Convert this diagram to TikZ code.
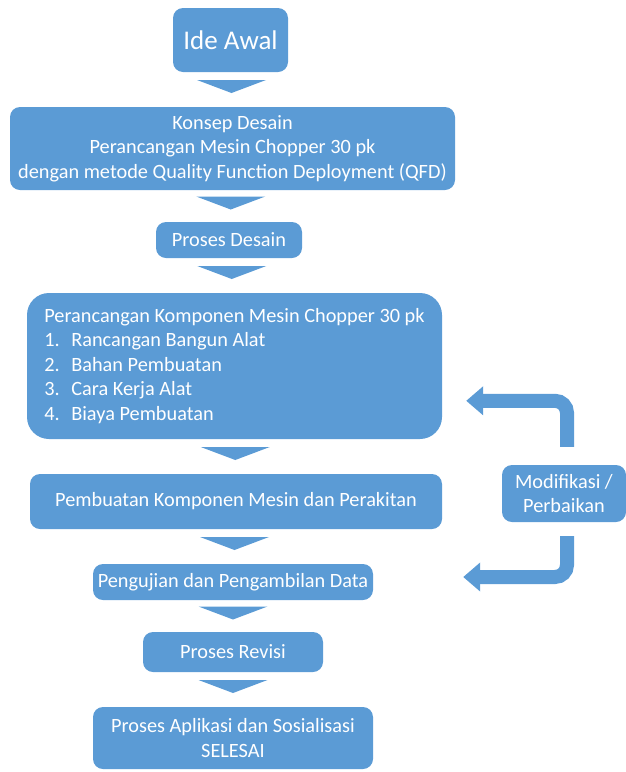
\documentclass[tikz,border=0pt]{standalone}
\usepackage{fontspec}
\setmainfont{Carlito}
\usetikzlibrary{arrows.meta,calc}
\definecolor{boxblue}{HTML}{5B9BD5}
\begin{document}
\begin{tikzpicture}[x=1pt,y=-1pt,
  box/.style={fill=boxblue, rounded corners=10pt, text=white,
    font=\fontsize{20.3}{24.5}\selectfont, align=center, inner sep=0pt},
  chev/.style={fill=boxblue},
  bent/.style={draw=boxblue, line width=14pt, rounded corners=12pt,
    -{Triangle[width=28pt,length=17pt]}}]
\useasboundingbox (0,0) rectangle (626,772);
\node[box, minimum width=115pt, minimum height=64pt, font=\fontsize{27}{30}\selectfont] (ide) at (230.5,40) {Ide Awal};
\node[box, minimum width=445pt, minimum height=83pt] (konsep) at (232.5,148.5)
  {Konsep Desain\\Perancangan Mesin Chopper 30 pk\\dengan metode Quality Function Deployment (QFD)};
\node[box, minimum width=146pt, minimum height=36pt] (desain) at (229,240) {Proses Desain};
\node[box, minimum width=415pt, minimum height=146pt, rounded corners=22pt, align=left] (komponen) at (234.5,366)
  {Perancangan Komponen Mesin Chopper 30 pk\\
   \makebox[27pt][l]{1.}Rancangan Bangun Alat\\
   \makebox[27pt][l]{2.}Bahan Pembuatan\\
   \makebox[27pt][l]{3.}Cara Kerja Alat\\
   \makebox[27pt][l]{4.}Biaya Pembuatan};
\node[box, minimum width=412pt, minimum height=55pt] (pembuatan) at (236,501.5) {Pembuatan Komponen Mesin dan Perakitan};
\node[box, minimum width=280pt, minimum height=36pt] (pengujian) at (233,582) {Pengujian dan Pengambilan Data};
\node[box, minimum width=180pt, minimum height=40pt] (revisi) at (233,652) {Proses Revisi};
\node[box, minimum width=280pt, minimum height=62pt] (aplikasi) at (233,738) {Proses Aplikasi dan Sosialisasi\\SELESAI};
\node[box, minimum width=124pt, minimum height=57pt] (mod) at (564,493.5) {Modifikasi /\\Perbaikan};
% chevrons
\foreach \a/\b in {ide/konsep,konsep/desain,desain/komponen,komponen/pembuatan,pembuatan/pengujian,pengujian/revisi,revisi/aplikasi}{
  \coordinate (m) at ($(\a.south)!0.5!(\b.north)+(0,-3)$);
  \fill[chev] ($(m)+(-34.5,-6.5)$) -- ($(m)+(34.5,-6.5)$) -- ($(m)+(0,6.5)$) -- cycle;
}
% feedback arrows
\coordinate (t1) at ($(komponen.north east)+(24,108)$);
\coordinate (t2) at ($(pengujian.east)+(90,-5)$);
\draw[bent] ($(mod.north)+(3,-18)$) |- (t1);
\draw[bent] ($(mod.south)+(3,14)$) |- (t2);
\end{tikzpicture}
\end{document}
